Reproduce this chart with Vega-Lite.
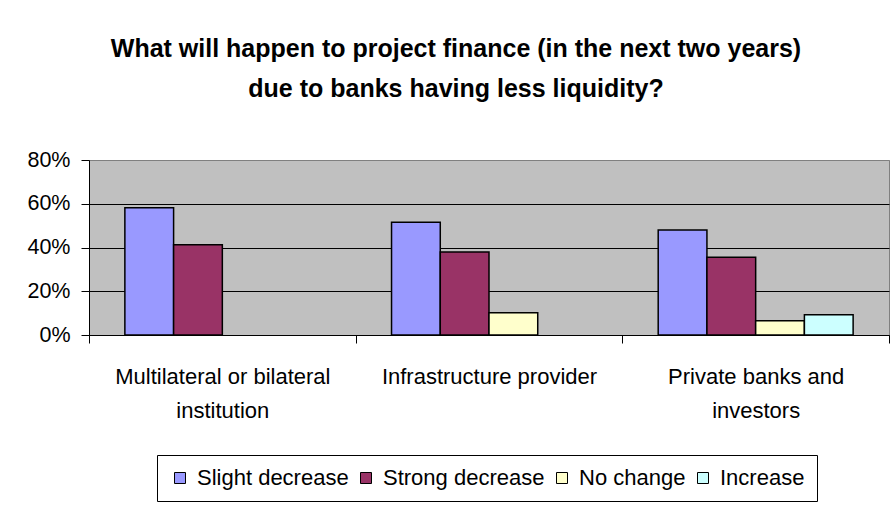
{
  "$schema": "https://vega.github.io/schema/vega-lite/v6.json",
  "width": 800,
  "height": 175,
  "autosize": "none",
  "padding": {"left": 89, "top": 160, "right": 4, "bottom": 170},
  "background": "white",
  "title": {
    "text": ["What will happen to project finance (in the next two years)", "due to banks having less liquidity?"],
    "font": "Liberation Sans",
    "fontSize": 25,
    "fontWeight": "bold",
    "color": "black",
    "anchor": "middle",
    "frame": "group",
    "dx": -33,
    "lineHeight": 40,
    "offset": 47
  },
  "data": {
    "values": [
      {"group": "Multilateral or bilateral institution", "series": "Slight decrease", "value": 0.582},
      {"group": "Multilateral or bilateral institution", "series": "Strong decrease", "value": 0.413},
      {"group": "Infrastructure provider", "series": "Slight decrease", "value": 0.515},
      {"group": "Infrastructure provider", "series": "Strong decrease", "value": 0.379},
      {"group": "Infrastructure provider", "series": "No change", "value": 0.102},
      {"group": "Private banks and investors", "series": "Slight decrease", "value": 0.48},
      {"group": "Private banks and investors", "series": "Strong decrease", "value": 0.355},
      {"group": "Private banks and investors", "series": "No change", "value": 0.065},
      {"group": "Private banks and investors", "series": "Increase", "value": 0.093}
    ]
  },
  "mark": {"type": "bar", "stroke": "black", "strokeWidth": 1.5},
  "encoding": {
    "x": {
      "field": "group",
      "type": "nominal",
      "sort": ["Multilateral or bilateral institution", "Infrastructure provider", "Private banks and investors"],
      "scale": {"paddingInner": 0, "paddingOuter": 0},
      "axis": {
        "title": null,
        "labelAngle": 0,
        "labelFont": "Liberation Sans",
        "labelFontSize": 22,
        "labelColor": "black",
        "labelLineHeight": 34,
        "labelPadding": 23,
        "labelLimit": 0,
        "labelExpr": "datum.value == 'Multilateral or bilateral institution' ? ['Multilateral or bilateral', 'institution'] : datum.value == 'Private banks and investors' ? ['Private banks and', 'investors'] : datum.value",
        "tickBand": "extent",
        "tickSize": 8,
        "tickColor": "black",
        "domainColor": "black",
        "grid": false
      }
    },
    "xOffset": {
      "field": "series",
      "type": "nominal",
      "sort": ["Slight decrease", "Strong decrease", "No change", "Increase"],
      "scale": {"paddingInner": 0, "paddingOuter": 0.736}
    },
    "y": {
      "field": "value",
      "type": "quantitative",
      "scale": {"domain": [0, 0.8], "nice": false},
      "axis": {
        "title": null,
        "values": [0, 0.2, 0.4, 0.6, 0.8],
        "format": ".0%",
        "labelFont": "Liberation Sans",
        "labelFontSize": 21.5,
        "labelColor": "black",
        "labelPadding": 11,
        "tickSize": 8,
        "tickColor": "black",
        "domainColor": "black",
        "grid": true,
        "gridColor": {"condition": {"test": "datum.value >= 0.8", "value": "#808080"}, "value": "black"},
        "gridOpacity": 1
      }
    },
    "color": {
      "field": "series",
      "type": "nominal",
      "scale": {
        "domain": ["Slight decrease", "Strong decrease", "No change", "Increase"],
        "range": ["#9999FF", "#993366", "#FFFFCC", "#CCFFFF"]
      },
      "legend": {
        "title": null,
        "orient": "none",
        "direction": "horizontal",
        "legendX": 68,
        "legendY": 295,
        "symbolType": "square",
        "symbolSize": 121,
        "symbolStrokeColor": "black",
        "symbolStrokeWidth": 1,
        "symbolOpacity": 1,
        "labelFont": "Liberation Sans",
        "labelFontSize": 22,
        "labelColor": "black",
        "labelLimit": 0,
        "labelOffset": 6,
        "columnPadding": 6,
        "strokeColor": "black",
        "padding": 12,
        "fillColor": "white"
      }
    }
  },
  "config": {
    "view": {"fill": "#C0C0C0", "stroke": "#808080", "strokeWidth": 1}
  }
}
